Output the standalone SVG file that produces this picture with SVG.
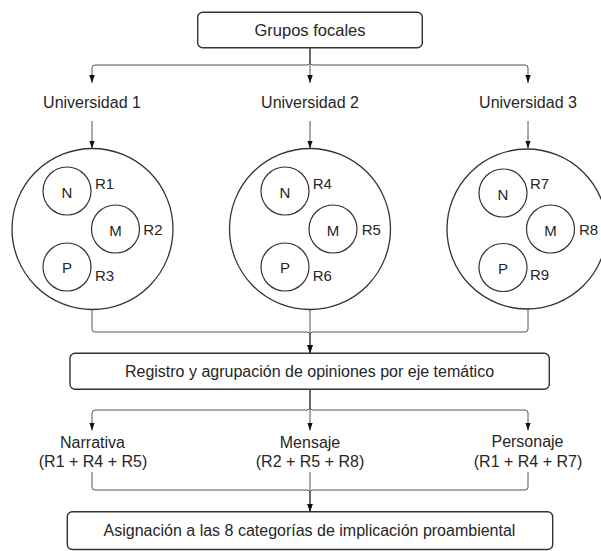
<svg xmlns="http://www.w3.org/2000/svg" width="601" height="551" viewBox="0 0 601 551">
<style>
text{font-family:"Liberation Sans",Arial,sans-serif;font-size:16px;fill:#262626}
.c{text-anchor:middle}
.lt{font-size:15px}
.box{fill:#fff;stroke:#333;stroke-width:1.4}
.big{fill:#fff;stroke:#333;stroke-width:1.3}
.sm{fill:#fff;stroke:#333;stroke-width:1.2}
.conn path{fill:none;stroke:#555;stroke-width:1}
</style>
<defs>
<marker id="arr" markerUnits="userSpaceOnUse" markerWidth="9" markerHeight="7" refX="8" refY="2.75" orient="auto">
<path d="M0,0 L8,2.75 L0,5.5 z" fill="#111"/>
</marker>
</defs>
<rect width="601" height="551" fill="#fff"/>
<g class="conn">
<path d="M310,48 V62 Q310,65 307,65 H95 Q92,65 92,68 V83" marker-end="url(#arr)"/>
<path d="M310,48 V83" marker-end="url(#arr)"/>
<path d="M310,48 V62 Q310,65 313,65 H525 Q528,65 528,68 V83" marker-end="url(#arr)"/>
<path d="M92,121 V148.5" marker-end="url(#arr)"/>
<path d="M310,121 V148.5" marker-end="url(#arr)"/>
<path d="M528,121 V148.5" marker-end="url(#arr)"/>
<path d="M92,309 V329 Q92,332 95,332 H307 Q310,332 310,335 V353" marker-end="url(#arr)"/>
<path d="M310,309 V353" marker-end="url(#arr)"/>
<path d="M528,309 V329 Q528,332 525,332 H313 Q310,332 310,335 V353" marker-end="url(#arr)"/>
<path d="M310,389.5 V407 Q310,410 307,410 H95 Q92,410 92,413 V430.5" marker-end="url(#arr)"/>
<path d="M310,389.5 V430.5" marker-end="url(#arr)"/>
<path d="M310,389.5 V407 Q310,410 313,410 H525 Q528,410 528,413 V430.5" marker-end="url(#arr)"/>
<path d="M92,472 V487 Q92,490 95,490 H307 Q310,490 310,493 V511.5" marker-end="url(#arr)"/>
<path d="M310,472 V511.5" marker-end="url(#arr)"/>
<path d="M528,472 V487 Q528,490 525,490 H313 Q310,490 310,493 V511.5" marker-end="url(#arr)"/>
</g>
<g id="grupos-focales">
<rect class="box" x="197.7" y="12.3" width="224.6" height="35.4" rx="5"/>
<text class="c" x="310" y="35.5" style="font-size:16.5px">Grupos focales</text>
</g>
<g id="universidad-1"><text class="c" x="92" y="108.3">Universidad 1</text></g>
<g id="universidad-2"><text class="c" x="310" y="108.3">Universidad 2</text></g>
<g id="universidad-3"><text class="c" x="528" y="108.3">Universidad 3</text></g>
<g id="grupo-1">
<circle class="big" cx="92.5" cy="229" r="80.5"/>
<circle class="sm" cx="67" cy="191" r="24"/>
<circle class="sm" cx="115.5" cy="229" r="24"/>
<circle class="sm" cx="67" cy="267" r="24"/>
<text class="c lt" x="67" y="197.5">N</text>
<text class="c lt" x="115.5" y="235.5">M</text>
<text class="c lt" x="67" y="273">P</text>
<text class="lt" x="95" y="189.3">R1</text>
<text class="lt" x="143.3" y="235">R2</text>
<text class="lt" x="95" y="280.7">R3</text>
</g>
<g id="grupo-2">
<circle class="big" cx="310" cy="229" r="80.5"/>
<circle class="sm" cx="285" cy="191" r="24"/>
<circle class="sm" cx="333" cy="229" r="24"/>
<circle class="sm" cx="285" cy="267" r="24"/>
<text class="c lt" x="285" y="197.5">N</text>
<text class="c lt" x="333" y="235.5">M</text>
<text class="c lt" x="285" y="273">P</text>
<text class="lt" x="312.7" y="189.3">R4</text>
<text class="lt" x="361.7" y="235">R5</text>
<text class="lt" x="312.7" y="280.5">R6</text>
</g>
<g id="grupo-3">
<circle class="big" cx="527" cy="229" r="80"/>
<circle class="sm" cx="503" cy="193" r="24"/>
<circle class="sm" cx="550.5" cy="229" r="24"/>
<circle class="sm" cx="503" cy="267.5" r="24"/>
<text class="c lt" x="503" y="199.5">N</text>
<text class="c lt" x="550.5" y="235.5">M</text>
<text class="c lt" x="503" y="273.5">P</text>
<text class="lt" x="530" y="189.3">R7</text>
<text class="lt" x="579" y="234.5">R8</text>
<text class="lt" x="530" y="280">R9</text>
</g>
<g id="registro">
<rect class="box" x="70" y="353.3" width="479.3" height="36" rx="5"/>
<text class="c" x="309.5" y="376.7">Registro y agrupación de opiniones por eje temático</text>
</g>
<g id="narrativa">
<text class="c" x="92.5" y="448">Narrativa</text>
<text class="c" x="93" y="466.7">(R1 + R4 + R5)</text>
</g>
<g id="mensaje">
<text class="c" x="310" y="447.5">Mensaje</text>
<text class="c" x="310" y="466.7">(R2 + R5 + R8)</text>
</g>
<g id="personaje">
<text class="c" x="527.5" y="447">Personaje</text>
<text class="c" x="528" y="466.7">(R1 + R4 + R7)</text>
</g>
<g id="asignacion">
<rect class="box" x="67.3" y="511.7" width="485.4" height="37.8" rx="5"/>
<text class="c" x="309.5" y="535.7">Asignación a las 8 categorías de implicación proambiental</text>
</g>
</svg>
